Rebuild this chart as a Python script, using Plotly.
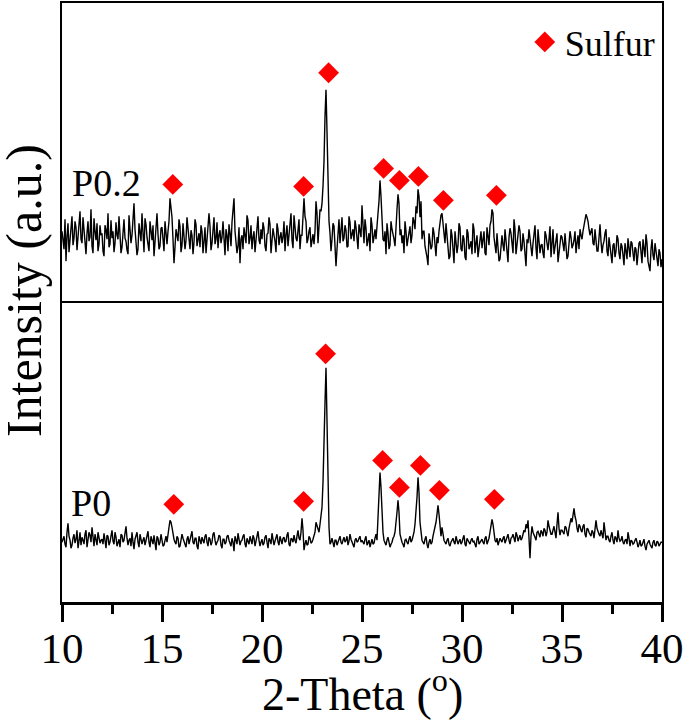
import plotly.graph_objects as go

# 2-theta grid: main samples at 10.0 .. 40.0 (step 0.1), half samples at 10.05 .. 39.95
theta_start = 10.0
theta_step = 0.1

# P0.2 intensity (a.u.) at 10.0, 10.1, ... (one row per degree)
p02_intensity = [
    70, 52, 40, 78, 60, 85, 63, 74, 66, 90,
    58, 72, 47, 80, 64, 55, 83, 61, 50, 76,
    68, 45, 71, 88, 57, 63, 49, 79, 62, 70,
    54, 82, 60, 47, 73, 66, 98, 61, 52, 69,
    88, 49, 77, 58, 80, 61, 45, 72, 67, 55,
    74, 50, 65, 70, 103, 84, 38, 72, 60, 75,
    56, 68, 61, 73, 52, 66, 59, 77, 63, 54,
    70, 60, 48, 67, 75, 58, 84, 62, 53, 71,
    64, 57, 72, 50, 68, 79, 103, 60, 55, 38,
    66, 74, 58, 81, 63, 52, 70, 61, 85, 57,
    62, 73, 50, 68, 77, 59, 66, 49, 72, 64,
    58, 80, 67, 55, 74, 61, 86, 63, 70, 52,
    66, 103, 80, 62, 74, 60, 57, 100, 58, 92,
    98, 140, 212, 105, 68, 62, 75, 35, 66, 58,
    84, 63, 71, 55, 79, 67, 60, 74, 52, 69,
    96, 58, 73, 62, 50, 76, 64, 62, 88, 121,
    75, 60, 47, 68, 56, 72, 62, 80, 107, 66,
    58, 48, 70, 62, 75, 66, 80, 95, 112, 84,
    62, 70, 50, 36, 60, 55, 68, 45, 58, 82,
    88, 70, 78, 52, 45, 66, 38, 60, 56, 74,
    50, 62, 41, 68, 55, 47, 72, 58, 44, 63,
    53, 70, 46, 60, 76, 92, 64, 48, 57, 42,
    66, 50, 58, 39, 73, 55, 82, 47, 61, 70,
    52, 60, 35, 58, 64, 45, 67, 53, 72, 48,
    57, 43, 66, 51, 75, 60, 47, 62, 39, 55,
    64, 50, 58, 45, 70, 53, 61, 48, 66, 72,
    62, 75, 87, 80, 66, 73, 56, 64, 50, 77,
    48, 60, 72, 45, 55, 38, 58, 50, 62, 42,
    55, 36, 50, 63, 44, 58, 40, 52, 47, 60,
    38, 54, 67, 40, 30, 62, 41, 50, 35, 48,
    42,
]

# P0.2 intensity (a.u.) at 10.05, 10.15, ... (one row per degree)
p02_intensity_half = [
    58, 82, 65, 49, 72, 56, 80, 51, 76, 62,
    84, 55, 68, 60, 92, 48, 70, 78, 57, 66,
    50, 76, 62, 54, 81, 70, 58, 66, 85, 48,
    75, 63, 51, 86, 58, 79, 72, 46, 78, 60,
    57, 83, 64, 50, 69, 76, 59, 88, 52, 73,
    61, 80, 57, 80, 95, 62, 54, 66, 82, 49,
    78, 52, 84, 59, 71, 47, 82, 55, 68, 76,
    48, 74, 63, 88, 51, 69, 57, 79, 66, 58,
    80, 46, 66, 77, 55, 90, 70, 48, 74, 62,
    52, 68, 86, 57, 76, 64, 49, 80, 61, 72,
    79, 55, 67, 84, 48, 73, 60, 78, 56, 69,
    64, 50, 76, 68, 88, 53, 71, 60, 82, 66,
    95, 85, 58, 70, 54, 67, 70, 88, 76, 90,
    115, 185, 170, 80, 50, 78, 56, 52, 82, 70,
    60, 76, 54, 85, 62, 72, 81, 58, 77, 64,
    70, 82, 55, 68, 84, 58, 72, 80, 100, 105,
    62, 70, 78, 52, 80, 64, 55, 92, 98, 72,
    66, 80, 55, 72, 58, 84, 72, 88, 105, 100,
    70, 55, 44, 68, 52, 74, 58, 64, 70, 86,
    80, 58, 66, 42, 72, 55, 70, 48, 78, 52,
    66, 44, 72, 52, 60, 78, 48, 66, 55, 70,
    62, 48, 74, 56, 80, 88, 55, 68, 40, 60,
    56, 72, 44, 64, 68, 48, 72, 58, 76, 50,
    68, 45, 62, 72, 50, 58, 76, 42, 62, 56,
    48, 70, 58, 62, 44, 72, 54, 68, 50, 66,
    54, 68, 42, 60, 64, 56, 70, 58, 52, 66,
    70, 82, 84, 72, 70, 58, 72, 50, 66, 60,
    56, 68, 50, 64, 46, 56, 44, 66, 48, 58,
    46, 58, 42, 56, 60, 48, 54, 36, 58, 50,
    62, 44, 58, 36, 52, 46, 58, 40, 52, 34,
]

# P0 intensity (a.u.) at 10.0, 10.1, ... (one row per degree)
p0_intensity = [
    60, 66, 55, 79, 62, 57, 68, 63, 54, 70,
    65, 58, 72, 61, 67, 75, 56, 64, 70, 59,
    63, 69, 54, 66, 60, 72, 58, 65, 61, 55,
    67, 62, 76, 57, 64, 70, 53, 66, 60, 68,
    58, 65, 61, 71, 55, 63, 67, 52, 64, 60,
    62, 57, 66, 70, 82, 75, 63, 58, 64, 56,
    68, 60, 55, 66, 62, 71, 58, 64, 53, 61,
    65, 59, 68, 56, 63, 60, 70, 57, 62, 66,
    54, 63, 60, 67, 58, 64, 51, 62, 69, 57,
    62, 68, 55, 61, 66, 58, 64, 60, 71, 56,
    63, 59, 67, 54, 62, 69, 57, 64, 60, 66,
    58, 65, 61, 70, 56, 63, 67, 59, 72, 62,
    84, 52, 62, 58, 64, 60, 66, 80, 72, 78,
    95, 150, 235, 105, 58, 64, 55, 62, 60, 66,
    58, 65, 62, 57, 68, 60, 55, 64, 61, 66,
    62, 58, 66, 60, 55, 63, 59, 68, 82, 130,
    85, 62, 57, 65, 55, 60, 66, 78, 102, 68,
    60, 55, 63, 58, 66, 62, 70, 88, 125, 80,
    62, 58, 66, 54, 63, 60, 70, 80, 97, 72,
    75, 62, 58, 64, 56, 62, 60, 66, 58, 63,
    60, 67, 56, 62, 58, 64, 61, 55, 66, 60,
    63, 58, 66, 61, 70, 83, 68, 60, 57, 64,
    60, 66, 62, 68, 58, 65, 63, 70, 61, 67,
    64, 72, 78, 82, 44, 76, 68, 62, 71, 65,
    70, 74, 66, 82, 72, 68, 76, 64, 90, 67,
    72, 68, 75, 66, 78, 80, 94, 82, 70, 76,
    70, 78, 65, 73, 68, 72, 64, 82, 70, 66,
    68, 80, 62, 66, 60, 70, 58, 64, 72, 61,
    66, 58, 63, 70, 56, 61, 59, 64, 55, 62,
    57, 63, 52, 60, 58, 54, 62, 56, 60, 58,
    60,
]

# P0 intensity (a.u.) at 10.05, 10.15, ... (one row per degree)
p0_intensity_half = [
    64, 58, 70, 66, 54, 64, 59, 72, 61, 57,
    62, 68, 55, 70, 60, 63, 68, 57, 66, 62,
    58, 62, 67, 57, 66, 61, 70, 56, 63, 68,
    60, 70, 64, 62, 56, 60, 63, 70, 55, 64,
    62, 57, 68, 60, 66, 58, 61, 66, 57, 68,
    56, 64, 60, 75, 80, 68, 60, 66, 55, 62,
    64, 57, 63, 58, 67, 60, 64, 56, 66, 58,
    61, 66, 60, 65, 57, 68, 62, 60, 67, 57,
    63, 58, 66, 62, 56, 60, 66, 58, 63, 61,
    66, 58, 64, 58, 63, 67, 56, 66, 62, 60,
    57, 65, 60, 64, 58, 63, 61, 68, 57, 62,
    64, 60, 67, 58, 64, 60, 62, 66, 64, 70,
    72, 58, 57, 66, 59, 63, 70, 76, 70, 85,
    120, 200, 180, 75, 60, 58, 62, 57, 64, 60,
    62, 60, 66, 61, 63, 58, 62, 60, 64, 60,
    60, 63, 57, 62, 60, 58, 64, 62, 100, 115,
    70, 58, 62, 60, 58, 64, 70, 90, 90, 62,
    58, 62, 60, 63, 60, 66, 78, 105, 110, 70,
    60, 63, 58, 60, 58, 66, 74, 88, 88, 66,
    68, 60, 62, 58, 60, 64, 58, 62, 61, 58,
    64, 58, 64, 59, 62, 60, 58, 63, 58, 62,
    60, 64, 58, 64, 76, 78, 62, 64, 60, 62,
    64, 59, 66, 62, 64, 68, 60, 67, 64, 62,
    68, 70, 74, 64, 66, 70, 65, 70, 68, 72,
    66, 72, 70, 76, 68, 73, 70, 78, 74, 72,
    70, 76, 70, 74, 84, 88, 86, 74, 78, 72,
    76, 68, 74, 70, 66, 70, 78, 74, 68, 72,
    64, 70, 66, 62, 66, 62, 66, 60, 64, 62,
    60, 62, 58, 64, 62, 58, 62, 60, 58, 56,
    60, 56, 58, 62, 56, 60, 57, 61, 56, 60,
]

# Sulfur reflection markers
sulfur_p02_theta = [15.54, 22.08, 23.33, 26.08, 26.87, 27.82, 29.07, 31.72]
sulfur_p02_int = [117, 115, 229, 133, 121, 125, 101, 106]
sulfur_p0_theta = [15.59, 22.08, 23.18, 26.03, 26.87, 27.92, 28.87, 31.62]
sulfur_p0_int = [98, 101, 249, 142, 115, 137, 112, 103]

x_ticks = [10, 15, 20, 25, 30, 35, 40]
x_minor_ticks = [12.5, 17.5, 22.5, 27.5, 32.5, 37.5]


def merge(main, half):
    xs, ys = [], []
    for i, v in enumerate(main):
        xs.append(round(theta_start + i * theta_step, 3))
        ys.append(v)
        if i < len(half):
            xs.append(round(theta_start + (i + 0.5) * theta_step, 3))
            ys.append(half[i])
    return xs, ys


theta_p02, int_p02 = merge(p02_intensity, p02_intensity_half)
theta_p0, int_p0 = merge(p0_intensity, p0_intensity_half)

FONT = "Liberation Serif, Times New Roman, serif"
RED = "#ff0000"

fig = go.Figure()

fig.add_trace(go.Scatter(x=theta_p02, y=int_p02, mode="lines",
                         line=dict(color="black", width=1.4),
                         xaxis="x2", yaxis="y2", showlegend=False, hoverinfo="skip"))
fig.add_trace(go.Scatter(x=sulfur_p02_theta, y=sulfur_p02_int, mode="markers",
                         marker=dict(symbol="diamond", size=16, color=RED),
                         xaxis="x2", yaxis="y2", name="Sulfur", showlegend=True))
fig.add_trace(go.Scatter(x=theta_p0, y=int_p0, mode="lines",
                         line=dict(color="black", width=1.4),
                         xaxis="x", yaxis="y", showlegend=False, hoverinfo="skip"))
fig.add_trace(go.Scatter(x=sulfur_p0_theta, y=sulfur_p0_int, mode="markers",
                         marker=dict(symbol="diamond", size=16, color=RED),
                         xaxis="x", yaxis="y", name="Sulfur", showlegend=False))

split = 0.5025

fig.update_layout(
    width=685, height=728,
    margin=dict(l=62, r=22, t=1, b=126),
    paper_bgcolor="white", plot_bgcolor="white",
    font=dict(family=FONT, color="black"),
    xaxis=dict(domain=[0, 1], range=[10, 40], anchor="y",
               tickvals=x_ticks, ticks="outside", ticklen=17, tickwidth=2.5,
               tickcolor="black", showline=True, linecolor="black", linewidth=2.5,
               mirror=False, showgrid=False, zeroline=False,
               ticklabelstandoff=-10,
               tickfont=dict(family=FONT, size=43, color="black"),
               minor=dict(tickvals=x_minor_ticks, ticks="outside", ticklen=9,
                          tickwidth=2.5, tickcolor="black", showgrid=False)),
    yaxis=dict(domain=[0, split], range=[0, 302], showticklabels=False,
               ticks="", showline=True, linecolor="black", linewidth=1.5,
               mirror=True, showgrid=False, zeroline=False),
    xaxis2=dict(domain=[0, 1], range=[10, 40], anchor="y2", matches="x",
                showticklabels=False, ticks="", showline=True, linecolor="black",
                linewidth=1.5, mirror=True, showgrid=False, zeroline=False),
    yaxis2=dict(domain=[split, 1], range=[0, 299], anchor="x2",
                showticklabels=False, ticks="", showline=True, linecolor="black",
                linewidth=1.5, mirror=True, showgrid=False, zeroline=False),
    legend=dict(x=0.998, y=0.985, xanchor="right", yanchor="top",
                bgcolor="rgba(0,0,0,0)", borderwidth=0,
                font=dict(family=FONT, size=36, color="black"),
                itemwidth=30, tracegroupgap=0),
    annotations=[
        dict(text="P0.2", x=10.4, y=118, xref="x2", yref="y2",
             xanchor="left", yanchor="middle", showarrow=False,
             font=dict(family=FONT, size=38, color="black")),
        dict(text="P0", x=10.35, y=99, xref="x", yref="y",
             xanchor="left", yanchor="middle", showarrow=False,
             font=dict(family=FONT, size=38, color="black")),
        dict(text="Intensity (a.u.)", x=-0.064, y=0.52, xref="paper", yref="paper",
             xanchor="center", yanchor="middle", textangle=-90, showarrow=False,
             font=dict(family=FONT, size=50, color="black")),
        dict(text="2-Theta (<sup>o</sup>)", x=0.5, y=-0.149, xref="paper", yref="paper",
             xanchor="center", yanchor="middle", showarrow=False,
             font=dict(family=FONT, size=46, color="black")),
    ],
)

fig.write_html("out.html", post_script="document.body.style.margin='0px';",
               config={"displayModeBar": False})
